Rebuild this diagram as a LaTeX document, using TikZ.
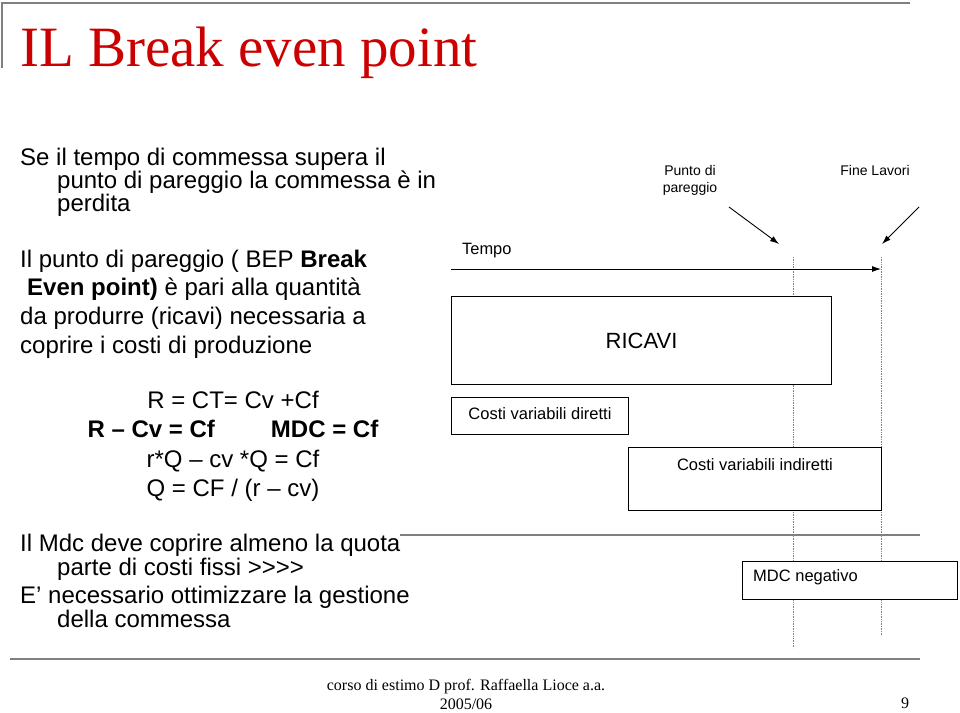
\documentclass[tikz,border=0pt]{standalone}
\usepackage{fontspec}
\setmainfont{Liberation Sans}
\newfontfamily\serifttl{Liberation Serif}
\usetikzlibrary{positioning,arrows.meta}
\definecolor{titlered}{RGB}{204,0,0}
\definecolor{rulegray}{RGB}{128,128,128}
\newcommand{\fs}[2]{\fontsize{#1}{#2}\selectfont}

\begin{document}
\begin{tikzpicture}[x=1pt,y=-1pt,
    box/.style={draw, fill=white, line width=1pt, inner sep=0pt, anchor=north west},
    txt/.style={inner sep=0pt, anchor=north west, align=left},
    guide/.style={draw=gray, densely dotted, line width=0.7pt},
    pointer/.style={line width=0.9pt, -{Latex[length=9pt,width=6pt]}},
    small/.style={inner sep=0pt, font=\fs{16.5}{19}}]
    \useasboundingbox (0,0) rectangle (960,712);

    % header
    \draw[rulegray, line width=2pt] (2,68) -- (2,3) -- (910,3);
    \node[anchor=base west, inner sep=0pt, text=titlered, font=\serifttl\fs{57}{60}] (title) at (20,66) {IL Break even point};

    % left column
    \node[txt, font=\fs{24}{22.5}] (perdita) at (20,147.5)
      {Se il tempo di commessa supera il\\\hspace*{37pt}punto di pareggio la commessa è in\\\hspace*{37pt}perdita};
    \node[txt, font=\fs{24}{28.7}] (bep) at (20,249.5)
      {Il punto di pareggio ( BEP \textbf{Break}\\\hspace*{7pt}\textbf{Even point)} è pari alla quantità\\da produrre (ricavi) necessaria a\\coprire i costi di produzione};
    \node[inner sep=0pt, anchor=north, align=center, font=\fs{24}{29.5}] (eq) at (233,390.5)
      {R = CT= Cv +Cf\\\textbf{R – Cv = Cf}\hspace{56pt}\textbf{MDC = Cf}\\r*Q – cv *Q = Cf\\Q = CF / (r – cv)};
    \node[txt, font=\fs{24}{24}] (mdc) at (20,533.5)
      {Il Mdc deve coprire almeno la quota\\\hspace*{37pt}parte di costi fissi >{}>{}>{}>};
    \node[txt, font=\fs{24}{24}] (gest) at (20,585.5)
      {E’ necessario ottimizzare la gestione\\\hspace*{37pt}della commessa};

    % rules
    \draw[rulegray, line width=1.5pt] (400,535) -- (920,535);
    \draw[rulegray, line width=1.5pt] (10,659) -- (920,659);

    % time line
    \coordinate (bep top) at (793,257);
    \coordinate (bep bot) at (793,648);
    \coordinate (end top) at (881,257);
    \coordinate (end bot) at (881,635);
    \draw[guide] (bep top) -- (bep bot);
    \draw[guide] (end top) -- (end bot);

    \node[anchor=base west, inner sep=0pt, font=\fs{16.4}{19}] (tempo) at (462,254) {Tempo};
    \coordinate (t0) at (451,269);
    \coordinate (t1) at (881,269);
    \draw[pointer] (t0) -- (t1);

    \node[anchor=north, inner sep=0pt, align=center, font=\fs{14}{17}] (pp) at (690,165) {Punto di\\pareggio};
    \node[anchor=north, inner sep=0pt, font=\fs{14}{17}] (fl) at (875,165) {Fine Lavori};
    \coordinate (pa) at (729,207);
    \coordinate (pb) at (779,244);
    \coordinate (fa) at (919,207);
    \coordinate (fb) at (882,244);
    \draw[pointer] (pa) -- (pb);
    \draw[pointer] (fa) -- (fb);

    % boxes
    \node[box, minimum width=380, minimum height=88, font=\fs{22}{26}] (ricavi) at (451,296) {RICAVI};
    \node[box, minimum width=177, minimum height=37] (cvd) at (451,397) {};
    \node[small, yshift=2pt] (cvd text) at (cvd.center) {Costi variabili diretti};
    \node[box, minimum width=253, minimum height=63] (cvi) at (628,447) {};
    \node[small, below=11pt of cvi.north] (cvi text) {Costi variabili indiretti};
    \node[box, minimum width=215, minimum height=38] (neg) at (742,561) {};
    \node[small, right=11pt of neg.west, yshift=3pt] (neg text) {MDC negativo};

    % footer
    \node[anchor=north, inner sep=0pt, align=center, font=\serifttl\fs{16}{19.5}] (credit) at (466,679)
      {corso di estimo D prof. Raffaella Lioce a.a.\\2005/06};
    \node[anchor=base, inner sep=0pt, font=\serifttl\fs{16}{19.5}] (pageno) at (905,708) {9};
\end{tikzpicture}
\end{document}
